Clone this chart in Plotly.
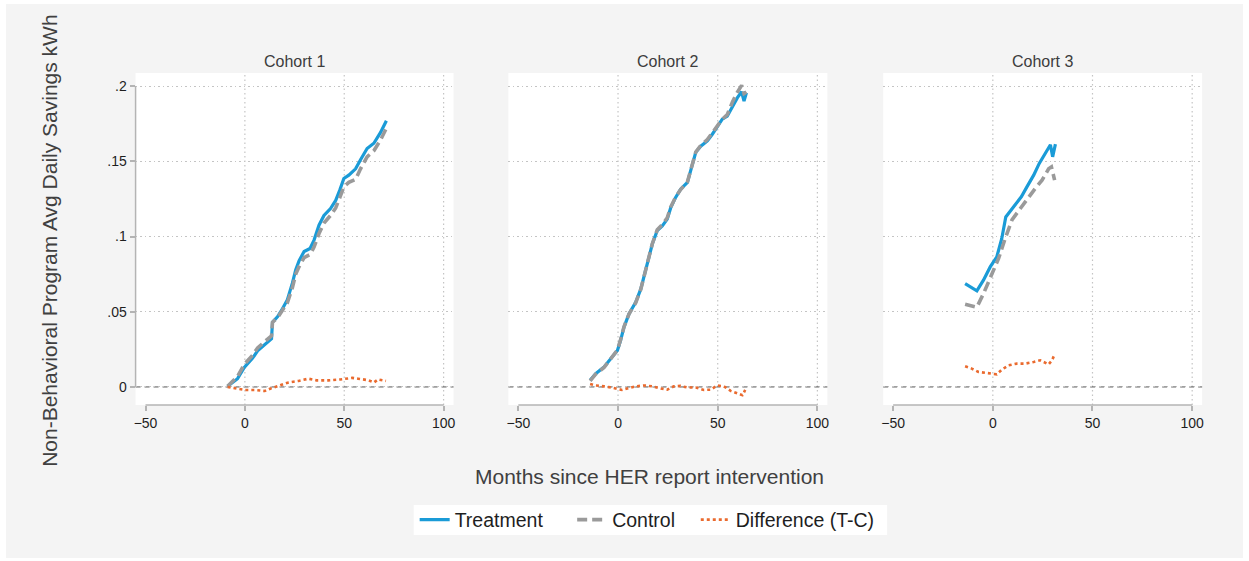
import plotly.graph_objects as go

# ---- data: months since HER report intervention vs avg daily savings (kWh) ----
c1_months = [-8.7, -3.7, -0.3, 3.8, 6.4, 9.7, 13.4, 13.9, 16.4, 18.9, 21.4, 23.9, 25.6, 27.3, 29.8,
             32.8, 34.8, 37.3, 39.8, 43.1, 45.7, 47.8, 49.8, 52.3, 55.7, 58.2, 61.5, 64.9, 68.2, 71.2]
c1_treat = [0.0004, 0.0055, 0.013, 0.019, 0.024, 0.028, 0.032, 0.043, 0.0466, 0.052, 0.058, 0.069,
            0.078, 0.084, 0.090, 0.092, 0.0976, 0.1075, 0.114, 0.1186, 0.124, 0.131, 0.1386, 0.1408,
            0.145, 0.151, 0.1585, 0.162, 0.169, 0.177]
c1_ctrl = [0.0004, 0.007, 0.015, 0.021, 0.026, 0.030, 0.034, 0.043, 0.046, 0.051, 0.056, 0.066,
           0.075, 0.080, 0.086, 0.088, 0.093, 0.102, 0.109, 0.114, 0.119, 0.126, 0.133, 0.136,
           0.138, 0.145, 0.153, 0.157, 0.164, 0.172]
c1_diff_months = [-8.7, -5, 0, 5, 10, 13, 17, 22, 27, 32, 36, 42, 48, 54, 57, 62, 65, 67, 71]
c1_diff = [0, -0.001, -0.002, -0.002, -0.0027, -0.001, 0.001, 0.003, 0.004, 0.0055, 0.0044,
           0.0044, 0.005, 0.006, 0.0055, 0.0045, 0.003, 0.005, 0.004]

c2_months = [-14, -11.2, -7, -3.7, -0.3, 1.3, 3, 5.5, 8.9, 11.4, 13, 14.7, 17.2, 19.7, 22.2, 24.7,
             26.4, 28.9, 31.4, 34.8, 36.5, 39, 41.5, 44.8, 47.3, 49.8, 52.3, 54.8, 57.4, 59.9, 62,
             63.2, 64.4]
c2_treat = [0.0044, 0.0088, 0.0133, 0.0188, 0.0243, 0.031, 0.0398, 0.0486, 0.0564, 0.065, 0.073,
            0.083, 0.095, 0.104, 0.107, 0.1116, 0.119, 0.126, 0.1315, 0.136, 0.1436, 0.156, 0.160,
            0.1635, 0.168, 0.1735, 0.178, 0.180, 0.1867, 0.1923, 0.1962, 0.190, 0.1956]
c2_ctrl = [0.0040, 0.0085, 0.0130, 0.0190, 0.0245, 0.0315, 0.0400, 0.0485, 0.0560, 0.0648, 0.0728,
           0.0830, 0.0952, 0.1045, 0.1080, 0.1125, 0.1195, 0.1262, 0.1312, 0.1362, 0.1438, 0.1562,
           0.1605, 0.1645, 0.1690, 0.1735, 0.1780, 0.1810, 0.1895, 0.1960, 0.2005, 0.1950, 0.1960]
c2_diff_months = [-14, -11.2, -7, -3, 2, 5.5, 8.9, 13, 17.2, 21.4, 24.7, 28, 31.4, 34.8, 39, 43.1,
                  46.5, 49.8, 53.1, 56.5, 59.9, 62.4, 63.8]
c2_diff = [0.002, 0.001, 0.0004, -0.0004, -0.002, -0.001, 0.0004, 0.001, 0.0004, -0.001, -0.0018,
           0.0004, 0.0007, -0.0004, -0.0004, -0.002, -0.0018, 0.001, 0.0004, -0.0026, -0.0044,
           -0.0055, -0.002]

c3_months = [-13.9, -10.6, -8, -4.7, -1.3, 2, 4.5, 6.5, 10.4, 14.3, 17.1, 20.5, 23.3, 26.3, 28.9,
             30, 31.4]
c3_treat = [0.0687, 0.066, 0.0639, 0.071, 0.0798, 0.0865, 0.0987, 0.113, 0.1197, 0.1264, 0.133,
            0.1408, 0.1486, 0.155, 0.161, 0.153, 0.1614]
c3_ctrl_months = [-13.9, -10.6, -8, -4.7, -1.3, 2.9, 6.2, 9.6, 13.8, 18, 21.3, 24.7, 28, 29.4, 31]
c3_ctrl = [0.055, 0.0537, 0.053, 0.062, 0.073, 0.0854, 0.0987, 0.111, 0.1186, 0.1264, 0.132,
           0.1375, 0.145, 0.1463, 0.1375]
c3_diff_months = [-13.9, -10.6, -7.2, -3, 2, 4.5, 7.9, 12.1, 16.3, 20.5, 23.8, 28, 29.7, 31]
c3_diff = [0.0137, 0.0122, 0.010, 0.0093, 0.0084, 0.0115, 0.0144, 0.0155, 0.0155, 0.0166, 0.0177,
           0.015, 0.0177, 0.0217]

cohort_names = ["Cohort 1", "Cohort 2", "Cohort 3"]
series_names = ["Treatment", "Control", "Difference (T-C)"]
x_ticks = [-50, 0, 50, 100]
x_gridlines = [0, 50, 100]
y_ticks = [0, 0.05, 0.1, 0.15, 0.2]
y_ticklabels = ["0", ".05", ".1", ".15", ".2"]

cohorts = [
    (c1_months, c1_treat, c1_months, c1_ctrl, c1_diff_months, c1_diff),
    (c2_months, c2_treat, c2_months, c2_ctrl, c2_diff_months, c2_diff),
    (c3_months, c3_treat, c3_ctrl_months, c3_ctrl, c3_diff_months, c3_diff),
]

# ---- styling ----
W, H = 1249, 561
BLUE = "#1a9bd7"
GREY = "#9a9a9a"
ORANGE = "#ea6a2e"
AXIS = "#b4b4b4"
GRID = "#c4c4c4"
GRID_DASH = "1.5px,3px"
FONT = "Liberation Sans, Arial, sans-serif"

x_px = [(134, 453), (508, 828), (884, 1204)]
y_px = (73, 405)
x_domains = [[a / W, b / W] for a, b in x_px]
y_domain = [(H - y_px[1]) / H, (H - y_px[0]) / H]
x_range = [-55, 105]
y_range = [-0.012, 0.2087]

# one legend per series so each entry sits at its own spot along the bottom strip
legend_ids = ["legend", "legend2", "legend3"]
legend_left_px = [414, 572, 696]
line_styles = [
    dict(color=BLUE, width=3.2),
    dict(color=GREY, width=3.6, dash="10px,5px"),
    dict(color=ORANGE, width=2.6, dash="3px,3px"),
]

fig = go.Figure()
for i, (tx, ty, cx, cy, dx, dy) in enumerate(cohorts):
    xa = "x" if i == 0 else f"x{i + 1}"
    ya = "y" if i == 0 else f"y{i + 1}"
    for k, (sx, sy) in enumerate([(tx, ty), (cx, cy), (dx, dy)]):
        fig.add_trace(go.Scatter(x=sx, y=sy, mode="lines", name=series_names[k],
                                 legendgroup=series_names[k], legend=legend_ids[k],
                                 showlegend=(i == 0), line=line_styles[k],
                                 xaxis=xa, yaxis=ya))

shapes = [
    # outer grey panel
    dict(type="rect", xref="paper", yref="paper", x0=4 / W, x1=1245 / W, y0=(H - 558) / H,
         y1=(H - 4) / H, fillcolor="#f4f4f4", line=dict(width=0), layer="below"),
    # white legend box
    dict(type="rect", xref="paper", yref="paper", x0=413 / W, x1=888 / W, y0=(H - 535) / H,
         y1=(H - 505) / H, fillcolor="white", line=dict(width=0), layer="below"),
]
annotations = []
layout_axes = {}
for i in range(3):
    sfx = "" if i == 0 else str(i + 1)
    xa, ya = "x" + sfx, "y" + sfx
    # white plot region
    shapes.append(dict(type="rect", xref="paper", yref="paper",
                       x0=x_domains[i][0], x1=x_domains[i][1], y0=y_domain[0], y1=y_domain[1],
                       fillcolor="white", line=dict(width=0), layer="below"))
    # vertical dotted gridlines
    for g in x_gridlines:
        shapes.append(dict(type="line", xref=xa, yref=ya + " domain", x0=g, x1=g, y0=0, y1=1,
                           line=dict(color=GRID, width=1.2, dash=GRID_DASH), layer="below"))
    # x axis line spanning the tick range
    shapes.append(dict(type="line", xref=xa, yref=ya + " domain", x0=x_ticks[0], x1=x_ticks[-1],
                       y0=0, y1=0, line=dict(color=AXIS, width=1.5)))
    # dashed reference line at zero
    shapes.append(dict(type="line", xref=xa + " domain", yref=ya, x0=0, x1=1, y0=0, y1=0,
                       line=dict(color="#555555", width=1, dash="5px,4px"), layer="below"))
    annotations.append(dict(text=cohort_names[i], xref="paper", yref="paper",
                            x=sum(x_domains[i]) / 2, y=(H - 62) / H, showarrow=False,
                            font=dict(size=16, color="#3c3c3c", family=FONT),
                            xanchor="center", yanchor="middle"))
    layout_axes["xaxis" + sfx] = dict(
        domain=x_domains[i], range=x_range, tickvals=x_ticks, ticks="outside", ticklen=5,
        tickcolor=AXIS, tickwidth=1.5, showgrid=False, zeroline=False, showline=False,
        anchor=ya, tickfont=dict(size=14, color="#1e1e1e", family=FONT), fixedrange=True)
    layout_axes["yaxis" + sfx] = dict(
        domain=y_domain, range=y_range, tickvals=y_ticks, ticktext=y_ticklabels,
        ticks="outside" if i == 0 else "", ticklen=5, tickcolor=AXIS, tickwidth=1.5,
        showticklabels=(i == 0), showgrid=True, gridcolor=GRID, griddash=GRID_DASH,
        gridwidth=1.2, zeroline=False, showline=False, anchor=xa,
        tickfont=dict(size=14, color="#1e1e1e", family=FONT), fixedrange=True)

# y axis line on the first panel, spanning the tick range
shapes.append(dict(type="line", xref="x domain", yref="y", x0=0, x1=0, y0=y_ticks[0],
                   y1=y_ticks[-1], line=dict(color=AXIS, width=1.5)))

annotations.append(dict(text="Non-Behavioral Program Avg Daily Savings kWh", xref="paper",
                        yref="paper", x=47 / W, y=(H - 241) / H, textangle=-90, showarrow=False,
                        font=dict(size=21, color="#404040", family=FONT),
                        xanchor="center", yanchor="middle"))
annotations.append(dict(text="Months since HER report intervention", xref="paper", yref="paper",
                        x=650 / W, y=(H - 476) / H, showarrow=False,
                        font=dict(size=21, color="#404040", family=FONT),
                        xanchor="center", yanchor="middle"))

legend_common = dict(orientation="h", xanchor="left", y=(H - 520) / H, yanchor="middle",
                     bgcolor="rgba(0,0,0,0)", itemwidth=30,
                     font=dict(size=19.5, color="#1e1e1e", family=FONT))
legends = {lid: dict(legend_common, x=px / W) for lid, px in zip(legend_ids, legend_left_px)}

fig.update_layout(
    width=W, height=H, margin=dict(l=0, r=0, t=0, b=0),
    paper_bgcolor="white", plot_bgcolor="rgba(0,0,0,0)",
    shapes=shapes, annotations=annotations,
    showlegend=True,
    **legends,
    **layout_axes,
)

fig.write_html("out.html")
